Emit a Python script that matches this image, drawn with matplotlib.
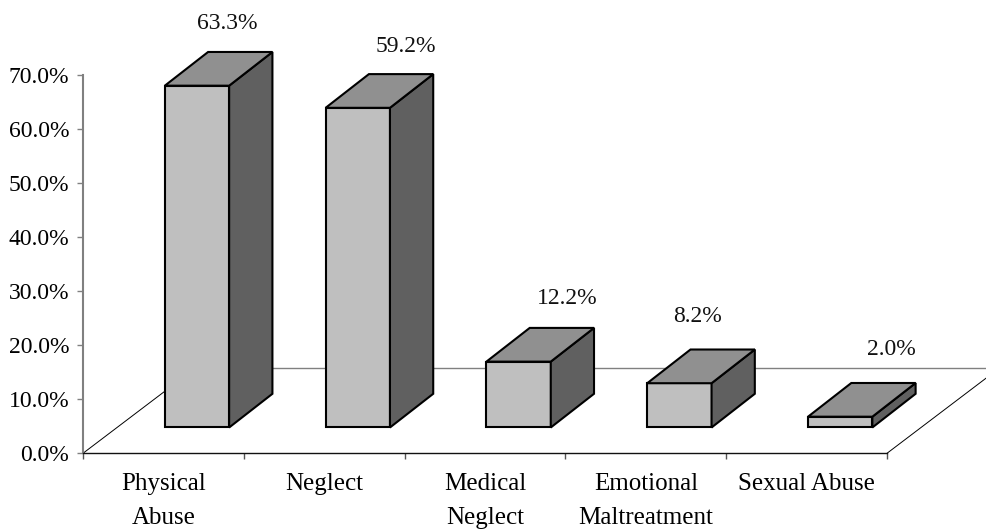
#3D-look bar chart: abuse types
import numpy as np
import matplotlib.pyplot as plt

plt.rcParams['font.family']=['Liberation Serif','DejaVu Serif']
plt.rcParams['font.size']=17

categories=['Physical\nAbuse','Neglect','Medical\nNeglect','Emotional\nMaltreatment','Sexual Abuse']
values=[63.3,59.2,12.2,8.2,2.0]
yticks=[0,10,20,30,40,50,60,70]

W,H=987,531
fig=plt.figure(figsize=(W/100,H/100),dpi=100,facecolor='white')
ax=fig.add_axes([83/W,1-453.3/H,(887-83)/W,(453.3-75.3)/H])   #pixel position of the plot box
ax.set_xlim(0,5)
ax.set_ylim(0,70)

for s in ['top','right']:
    ax.spines[s].set_visible(False)
ax.spines['left'].set_color('#808080')
ax.spines['left'].set_linewidth(1.5)
ax.spines['bottom'].set_color('#111111')
ax.spines['bottom'].set_linewidth(1.0)

ax.set_yticks(yticks)
ax.set_yticklabels(['%.1f%%'%v for v in yticks])
ax.tick_params(axis='y',length=4.5,width=1,color='#808080',pad=5.4)
ax.set_xticks(np.arange(6))
ax.set_xticklabels([])
ax.tick_params(axis='x',which='major',length=4.5,width=1,color='#555555')
ax.set_xticks(np.arange(5)+0.5,minor=True)
ax.set_xticklabels(categories,minor=True,fontsize=18,linespacing=1.72,va='top')
ax.tick_params(axis='x',which='minor',length=0,pad=14)

# floor of the fake 3D box
floorDx,floorDy=0.697,15.74
ax.plot([0,floorDx],[0,floorDy],color='black',lw=0.7,clip_on=False,zorder=1)
ax.plot([floorDx,5+floorDx],[floorDy,floorDy],color='#808080',lw=1.0,clip_on=False,zorder=1)
ax.plot([5,5+floorDx],[0,floorDy],color='black',lw=0.7,clip_on=False,zorder=1)

# bars: front, side and top faces
barShift,halfW=0.709,0.2
depthDx,depthDy=0.269,6.24
baseY=4.78
edge=dict(edgecolor='black',linewidth=1.5,joinstyle='miter',clip_on=False,zorder=3)
labelDx=[0.19,0.30,0.30,0.11,0.32]    #label offset from bar centre
labelDy=[11.6,11.4,11.6,12.4,12.5]
for i,v in enumerate(values):
    x0=i+barShift-halfW
    x1=i+barShift+halfW
    y0=baseY
    y1=baseY+v
    ax.fill([x0,x1,x1,x0],[y0,y0,y1,y1],facecolor='#bfbfbf',**edge)
    ax.fill([x1,x1+depthDx,x1+depthDx,x1],[y0,y0+depthDy,y1+depthDy,y1],facecolor='#606060',**edge)
    ax.fill([x0,x1,x1+depthDx,x0+depthDx],[y1,y1,y1+depthDy,y1+depthDy],facecolor='#909090',**edge)
    ax.text(i+barShift+labelDx[i],y1+labelDy[i],'%.1f%%'%v,ha='center',va='center',clip_on=False,color='#111111')

plt.savefig('out.png',dpi=100)
plt.close()
